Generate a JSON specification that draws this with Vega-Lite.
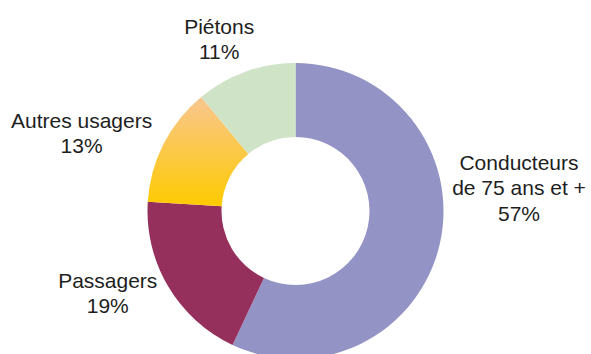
{
  "$schema": "https://vega.github.io/schema/vega-lite/v6.json",
  "width": 591,
  "height": 286,
  "autosize": {"type": "none"},
  "padding": {"top": 68, "left": 0, "right": 0, "bottom": 0},
  "background": "white",
  "view": {"stroke": null},
  "data": {"values": [
    {"cat": "Conducteurs de 75 ans et +", "label": "Conducteurs\nde 75 ans et +\n57%", "value": 57, "order": 1},
    {"cat": "Passagers", "label": "Passagers\n19%", "value": 19, "order": 2},
    {"cat": "Autres usagers", "label": "Autres usagers\n13%", "value": 13, "order": 3},
    {"cat": "Piétons", "label": "Piétons\n11%", "value": 11, "order": 4}
  ]},
  "encoding": {
    "theta": {"field": "value", "type": "quantitative", "stack": true},
    "order": {"field": "order", "type": "quantitative"}
  },
  "layer": [
    {
      "mark": {"type": "arc", "innerRadius": 74, "outerRadius": 148},
      "encoding": {
        "color": {
          "field": "cat", "type": "nominal", "legend": null,
          "scale": {
            "domain": ["Conducteurs de 75 ans et +", "Passagers", "Autres usagers", "Piétons"],
            "range": ["#9393c5", "#952f5c", "#fcc84a", "#cfe4c6"]
          },
          "condition": {
            "test": "datum.cat === 'Autres usagers'",
            "value": {"gradient": "linear", "x1": 0, "y1": 0, "x2": 0, "y2": 1,
              "stops": [{"offset": 0, "color": "#f8c690"}, {"offset": 1, "color": "#ffcb00"}]}
          }
        }
      }
    },
    {
      "mark": {"type": "text", "radius": 229, "dy": -97, "fontSize": 21, "font": "Liberation Sans", "lineBreak": "\n", "lineHeight": 25.5, "fill": "#1e1e1e", "align": "center", "baseline": "middle"},
      "encoding": {
        "detail": {"field": "cat"},
        "text": {"condition": {"test": "datum.cat === 'Conducteurs de 75 ans et +'", "field": "label"}, "value": ""}
      }
    },
    {
      "mark": {"type": "text", "radius": 210, "dx": -7, "dy": -36, "fontSize": 21, "font": "Liberation Sans", "lineBreak": "\n", "lineHeight": 25.5, "fill": "#1e1e1e", "align": "center", "baseline": "middle"},
      "encoding": {
        "detail": {"field": "cat"},
        "text": {"condition": {"test": "datum.cat === 'Passagers'", "field": "label"}, "value": ""}
      }
    },
    {
      "mark": {"type": "text", "radius": 230, "dx": -9, "dy": 15, "fontSize": 21, "font": "Liberation Sans", "lineBreak": "\n", "lineHeight": 25.5, "fill": "#1e1e1e", "align": "center", "baseline": "middle"},
      "encoding": {
        "detail": {"field": "cat"},
        "text": {"condition": {"test": "datum.cat === 'Autres usagers'", "field": "label"}, "value": ""}
      }
    },
    {
      "mark": {"type": "text", "radius": 181, "dx": -15, "dy": -13, "fontSize": 21, "font": "Liberation Sans", "lineBreak": "\n", "lineHeight": 25.5, "fill": "#1e1e1e", "align": "center", "baseline": "middle"},
      "encoding": {
        "detail": {"field": "cat"},
        "text": {"condition": {"test": "datum.cat === 'Piétons'", "field": "label"}, "value": ""}
      }
    }
  ]
}
